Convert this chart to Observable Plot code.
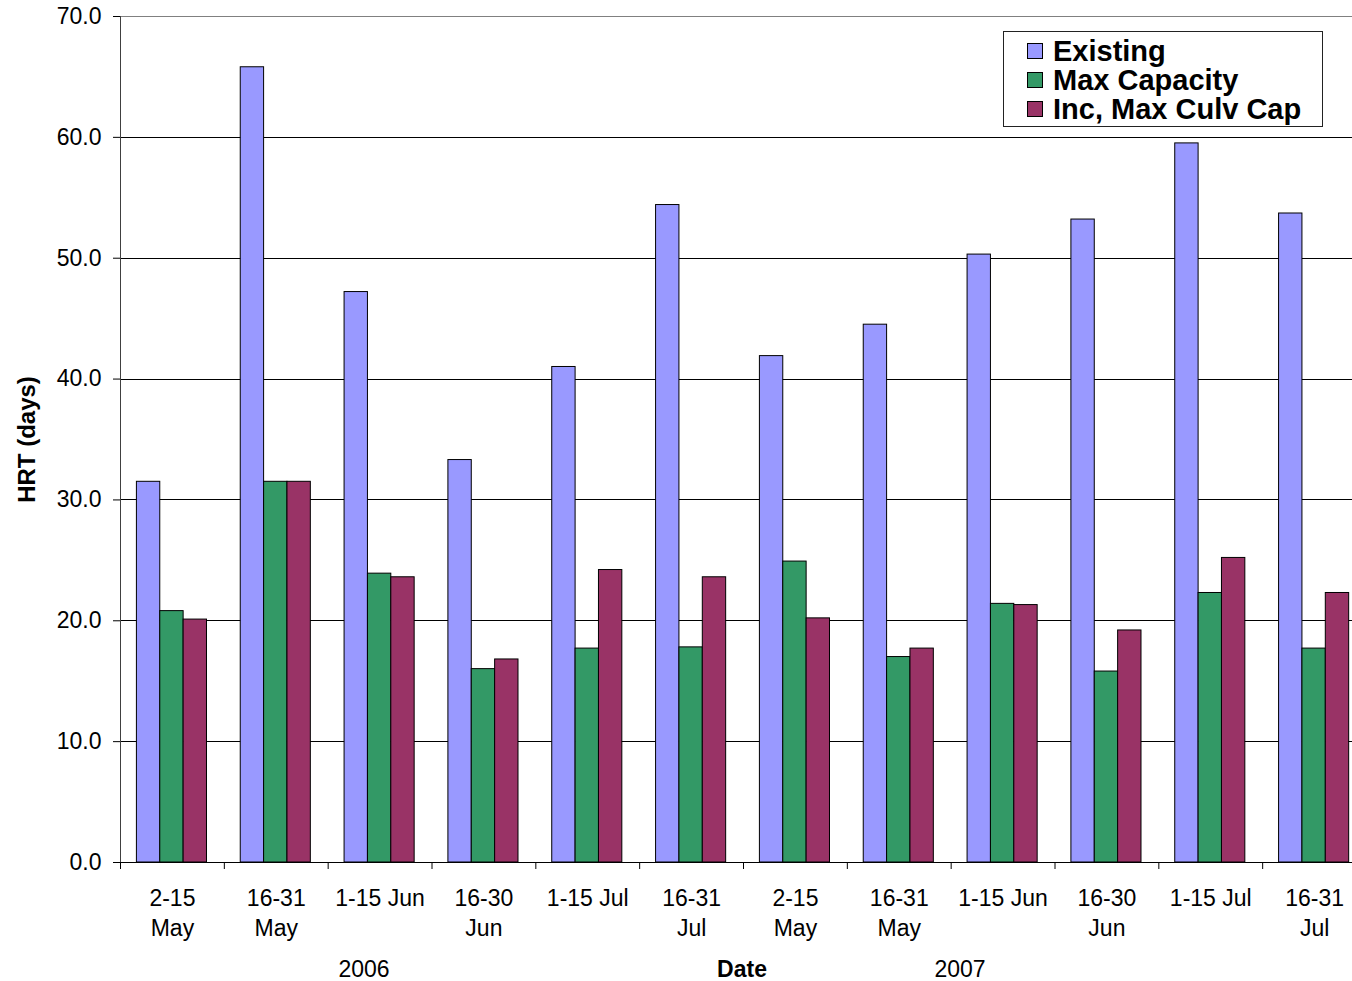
<!DOCTYPE html>
<html>
<head>
<meta charset="utf-8">
<script src="https://cdn.jsdelivr.net/npm/d3@7"></script>
<script src="https://cdn.jsdelivr.net/npm/@observablehq/plot@0.6"></script>
<style>
  html, body { margin: 0; padding: 0; background: #fff; overflow: hidden; }
  #wrap { position: relative; width: 1352px; height: 981px; overflow: hidden;
          font-family: "Liberation Sans", Arial, sans-serif; color: #000; }
  #wrap svg { display: block; max-width: none !important; height: 981px !important; }
  .cap { position: absolute; font-size: 23px; line-height: 23px; white-space: nowrap;
         transform: translateX(-50%); }
  .legend { position: absolute; left: 1003px; top: 31px; width: 318px; height: 94px;
            border: 1px solid #222; background: #fff; box-sizing: content-box; }
  .legend .row { position: absolute; left: 23px; height: 29px; line-height: 29px;
                 font-size: 29px; font-weight: bold; white-space: nowrap; }
  .legend .sw { display: inline-block; width: 14px; height: 14px; border: 1px solid #000;
                vertical-align: middle; margin-right: 10px; position: relative; top: -2px; }
</style>
</head>
<body>
<div id="wrap"></div>
<script>
// Half-month periods, two seasons
const periods = [
  "2-15\nMay", "16-31\nMay", "1-15 Jun", "16-30\nJun", "1-15 Jul", "16-31\nJul",
  "2-15\nMay", "16-31\nMay", "1-15 Jun", "16-30\nJun", "1-15 Jul", "16-31\nJul"
];
const years = ["2006", "2007"];
const seriesNames = ["Existing", "Max Capacity", "Inc, Max Culv Cap"];
const seriesColors = ["#9999FF", "#339966", "#993366"];

// Hydraulic residence time (days)
const existing      = [31.5, 65.8, 47.2, 33.3, 41.0, 54.4, 41.9, 44.5, 50.3, 53.2, 59.5, 53.7];
const maxCapacity   = [20.8, 31.5, 23.9, 16.0, 17.7, 17.8, 24.9, 17.0, 21.4, 15.8, 22.3, 17.7];
const incMaxCulvCap = [20.1, 31.5, 23.6, 16.8, 24.2, 23.6, 20.2, 17.7, 21.3, 19.2, 25.2, 22.3];

const yTicks = d3.range(0, 71, 10);

// Each period occupies one unit on x; three clustered bars sit inside it
const groupPad = 0.158, barWidth = 0.225;
const seriesValues = [existing, maxCapacity, incMaxCulvCap];
const table = [];
periods.forEach((p, i) => {
  seriesValues.forEach((vals, s) => {
    table.push({
      period: i,
      series: seriesNames[s],
      x1: i + groupPad + s * barWidth,
      x2: i + groupPad + (s + 1) * barWidth,
      value: vals[i]
    });
  });
});

const chart = Plot.plot({
  width: 1366,
  height: 981,
  marginTop: 16,
  marginBottom: 119,
  marginLeft: 120,
  marginRight: 0,
  style: { fontFamily: "'Liberation Sans', Arial, sans-serif", fontSize: "23px", color: "#000", background: "#fff" },
  x: { domain: [0, periods.length] },
  y: { domain: [0, 70] },
  color: { domain: seriesNames, range: seriesColors },
  marks: [
    Plot.ruleY(yTicks.filter(d => d > 0 && d < 70), { stroke: "#000", strokeWidth: 1, shapeRendering: "crispEdges" }),
    Plot.ruleY([70], { stroke: "#808080", strokeWidth: 1, shapeRendering: "crispEdges" }),
    Plot.rectY(table, { x1: "x1", x2: "x2", y: "value", fill: "series", stroke: "#000", strokeWidth: 1 }),
    Plot.ruleX([0], { stroke: "#404040", strokeWidth: 1, shapeRendering: "crispEdges" }),
    Plot.ruleY([0], { stroke: "#000", strokeWidth: 1, shapeRendering: "crispEdges" }),
    Plot.axisY(yTicks, { tickFormat: d3.format(".1f"), tickSize: 7, tickPadding: 12, fontSize: 23, label: null }),
    Plot.axisX(d3.range(0, periods.length + 1), { tickSize: 7, tickFormat: () => "", label: null }),
    Plot.axisX(d3.range(periods.length).map(i => i + 0.5), {
      tickSize: 0, tickPadding: 22, fontSize: 23, lineHeight: 1.3,
      tickFormat: d => periods[Math.floor(d)], label: null
    }),
    Plot.text(["HRT (days)"], {
      frameAnchor: "left", rotate: -90, dx: -93, fontSize: 24, fontWeight: "bold",
      textAnchor: "middle", lineAnchor: "middle"
    })
  ]
});

const wrap = document.getElementById("wrap");
wrap.appendChild(chart);

// Year and axis captions under the period labels
const captions = [
  { text: years[0], left: 364, bold: false },
  { text: "Date", left: 742, bold: true },
  { text: years[1], left: 960, bold: false }
];
captions.forEach(c => {
  const el = document.createElement("div");
  el.className = "cap";
  el.textContent = c.text;
  el.style.left = c.left + "px";
  el.style.top = "958px";
  if (c.bold) el.style.fontWeight = "bold";
  wrap.appendChild(el);
});

// Legend
const legend = document.createElement("div");
legend.className = "legend";
seriesNames.forEach((name, i) => {
  const row = document.createElement("div");
  row.className = "row";
  row.style.top = (5 + i * 29) + "px";
  const sw = document.createElement("span");
  sw.className = "sw";
  sw.style.background = seriesColors[i];
  row.appendChild(sw);
  row.appendChild(document.createTextNode(name));
  legend.appendChild(row);
});
wrap.appendChild(legend);
</script>
</body>
</html>
